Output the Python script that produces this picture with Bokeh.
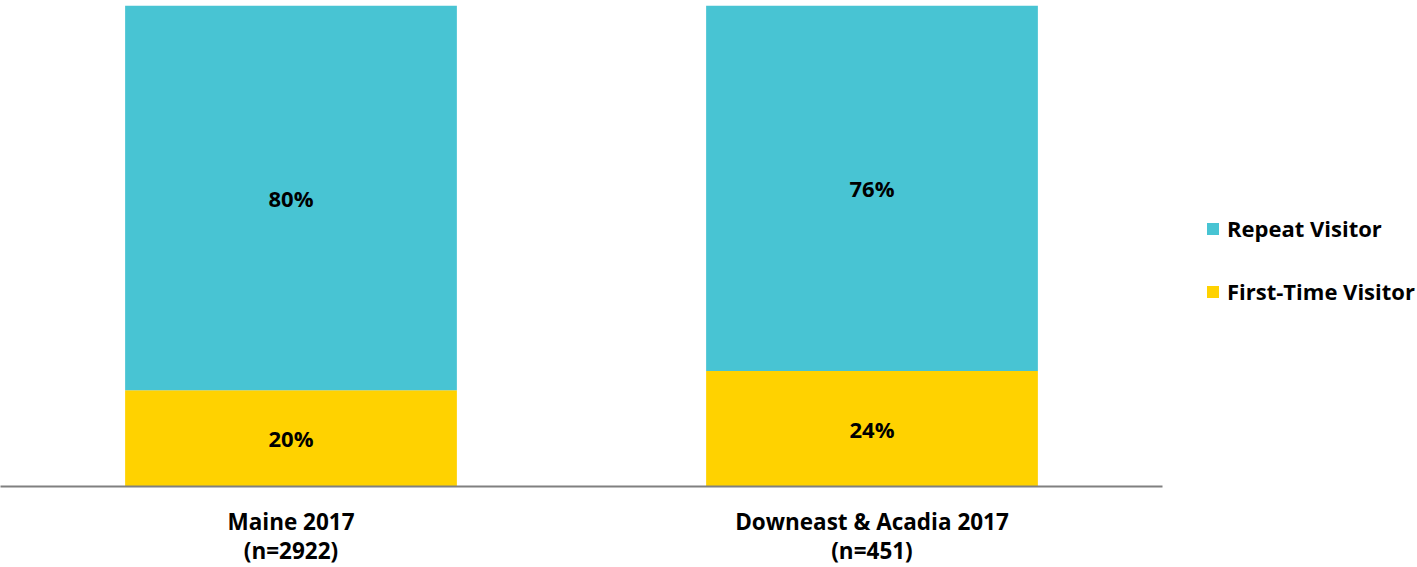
from bokeh.plotting import figure
from bokeh.models import ColumnDataSource, FactorRange, Range1d, Legend, LegendItem, LabelSet
from bokeh.embed import file_html
from bokeh.resources import INLINE
from bokeh.core.properties import value

categories = ["Maine 2017\n(n=2922)", "Downeast & Acadia 2017\n(n=451)"]
first_time = [0.20, 0.24]
repeat = [0.80, 0.76]
series_names = ["Repeat Visitor", "First-Time Visitor"]
colors = {"Repeat Visitor": "#48C4D3", "First-Time Visitor": "#FFD200"}

FONT = "Open Sans"

src = ColumnDataSource(dict(
    cat=categories,
    first=first_time,
    repeat=repeat,
    first_lbl=[f"{v*100:.0f}%" for v in first_time],
    repeat_lbl=[f"{v*100:.0f}%" for v in repeat],
    first_mid=[v / 2 for v in first_time],
    repeat_mid=[f + r / 2 for f, r in zip(first_time, repeat)],
))

p = figure(x_range=FactorRange(*categories, range_padding=0), y_range=Range1d(0, 1.0),
           frame_width=1162, frame_height=481, output_backend="svg", toolbar_location=None,
           min_border_left=0, min_border_top=5, min_border_bottom=0, min_border_right=0)

r1 = p.vbar_stack(["first", "repeat"], x="cat", width=0.571, source=src,
                  color=[colors["First-Time Visitor"], colors["Repeat Visitor"]], line_color=None)

for ycol, lcol in (("first_mid", "first_lbl"), ("repeat_mid", "repeat_lbl")):
    p.add_layout(LabelSet(x="cat", y=ycol, text=lcol, source=src, text_align="center",
                          text_baseline="middle", text_font=value(FONT), text_font_style="bold",
                          text_font_size="22px", text_color="#000000"))

legend = Legend(items=[LegendItem(label="Repeat Visitor", renderers=[r1[1]]),
                       LegendItem(label="First-Time Visitor", renderers=[r1[0]])],
                location=(43, 180), orientation="vertical",
                label_text_font=FONT, label_text_font_style="bold", label_text_font_size="22px",
                label_text_color="#000000", label_height=22,
                glyph_width=15, glyph_height=15, spacing=33, border_line_color=None,
                background_fill_alpha=0, margin=0, padding=0, label_standoff=7)
p.add_layout(legend, "right")
p.min_border_right = 20

p.yaxis.visible = False
p.xgrid.visible = False
p.ygrid.visible = False
p.outline_line_color = None
p.xaxis.axis_line_color = "#808080"
p.xaxis.axis_line_width = 2
p.xaxis.major_tick_line_color = None
p.xaxis.minor_tick_line_color = None
p.xaxis.major_label_text_font = FONT
p.xaxis.major_label_text_font_style = "bold"
p.xaxis.major_label_text_font_size = "22.5px"
p.xaxis.major_label_text_color = "#000000"
p.xaxis.major_label_text_line_height = 0.95
p.xaxis.major_label_standoff = 13

open("out.html", "w").write(file_html(p, INLINE))
